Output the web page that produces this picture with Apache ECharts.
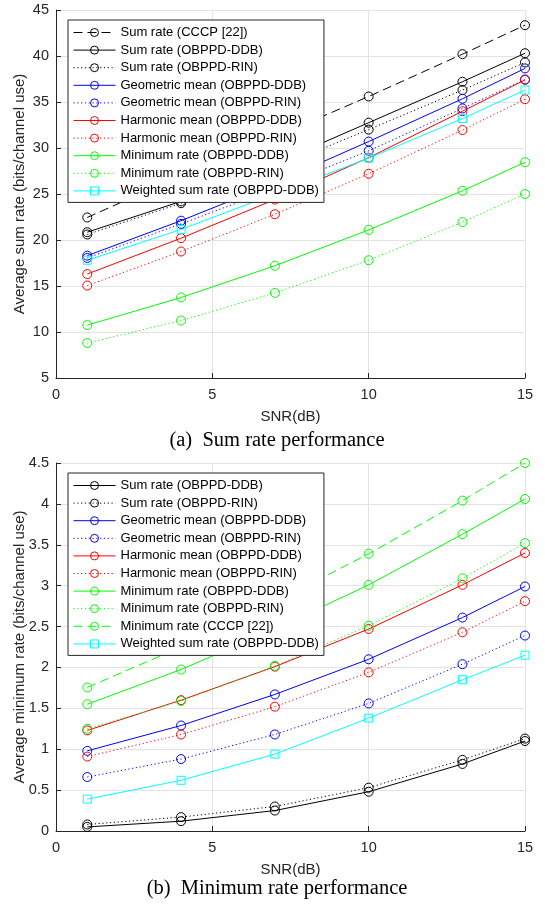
<!DOCTYPE html>
<html>
<head>
<meta charset="utf-8">
<script src="https://cdn.jsdelivr.net/npm/echarts@6/dist/echarts.min.js"></script>
<style>
html,body{margin:0;padding:0;background:#fff;}
#c{width:545px;height:906px;}
</style>
</head>
<body>
<div id="c"></div>
<script>
// ---- data ----
var snr = [1, 4, 7, 10, 13, 15];
var xTicks = [0, 5, 10, 15];

// (a) sum rate
var aSumCCCP  = [22.45, 27.0, 31.2, 35.6, 40.2, 43.35];
var aSumDDB   = [20.85, 24.2, 28.3, 32.75, 37.2, 40.3];
var aSumRIN   = [20.6, 24.0, 27.8, 32.0, 36.3, 39.3];
var aGeoDDB   = [18.3, 22.1, 26.2, 30.7, 35.35, 38.65];
var aGeoRIN   = [18.05, 21.75, 25.6, 29.7, 34.3, 37.45];
var aHarmDDB  = [16.3, 20.2, 24.4, 28.95, 34.0, 37.4];
var aHarmRIN  = [15.05, 18.75, 22.8, 27.2, 31.95, 35.3];
var aMinDDB   = [10.75, 13.75, 17.2, 21.1, 25.35, 28.45];
var aMinRIN   = [8.8, 11.25, 14.25, 17.8, 21.95, 25.0];
var aWSum     = [17.8, 21.15, 25.0, 28.9, 33.2, 36.3];
var aYTicks   = [5, 10, 15, 20, 25, 30, 35, 40, 45];

// (b) minimum rate
var bSumDDB   = [0.05, 0.12, 0.25, 0.48, 0.82, 1.10];
var bSumRIN   = [0.08, 0.17, 0.30, 0.53, 0.87, 1.13];
var bGeoDDB   = [0.98, 1.29, 1.67, 2.10, 2.61, 2.99];
var bGeoRIN   = [0.66, 0.88, 1.18, 1.56, 2.04, 2.39];
var bHarmDDB  = [1.23, 1.60, 2.01, 2.47, 3.01, 3.40];
var bHarmRIN  = [0.91, 1.18, 1.52, 1.94, 2.43, 2.81];
var bMinDDB   = [1.55, 1.975, 2.47, 3.01, 3.63, 4.06];
var bMinRIN   = [1.25, 1.59, 2.02, 2.51, 3.09, 3.52];
var bMinCCCP  = [1.755, 2.25, 2.8, 3.39, 4.04, 4.5];
var bWSum     = [0.39, 0.62, 0.94, 1.38, 1.85, 2.15];
var bYTicks   = [0, 0.5, 1, 1.5, 2, 2.5, 3, 3.5, 4, 4.5];

var N_SUM_CCCP = 'Sum rate (CCCP [22])';
var N_SUM_DDB = 'Sum rate (OBPPD-DDB)';
var N_SUM_RIN = 'Sum rate (OBPPD-RIN)';
var N_GEO_DDB = 'Geometric mean (OBPPD-DDB)';
var N_GEO_RIN = 'Geometric mean (OBPPD-RIN)';
var N_HARM_DDB = 'Harmonic mean (OBPPD-DDB)';
var N_HARM_RIN = 'Harmonic mean (OBPPD-RIN)';
var N_MIN_DDB = 'Minimum rate (OBPPD-DDB)';
var N_MIN_RIN = 'Minimum rate (OBPPD-RIN)';
var N_MIN_CCCP = 'Minimum rate (CCCP [22])';
var N_WSUM = 'Weighted sum rate (OBPPD-DDB)';

// ---- styling ----
var FONT = 'Liberation Sans';
var AX = '#262626';
var GRIDC = '#e3e3e3';
var DOT = [1.2, 2.6];
var DASH = [9, 5];

function mk(name, vals, color, type, symbol, idx) {
  return {
    name: name, type: 'line',
    xAxisIndex: idx, yAxisIndex: idx,
    data: snr.map(function (x, i) { return [x, vals[i]]; }),
    symbol: symbol || 'circle',
    symbolSize: symbol === 'rect' ? 8 : 9,
    showAllSymbol: true,
    lineStyle: { color: color, width: 1, type: type },
    itemStyle: { color: 'rgba(0,0,0,0)', borderColor: color, borderWidth: 1 },
    emphasis: { disabled: true },
    animation: false
  };
}

function xAx(idx) {
  return {
    gridIndex: idx, type: 'value', min: 0, max: 15, interval: 5,
    name: 'SNR(dB)', nameLocation: 'middle', nameGap: 31, nameMoveOverlap: false,
    nameTextStyle: { fontFamily: FONT, fontSize: 15, color: AX },
    axisLine: { show: true, lineStyle: { color: AX, width: 1 } },
    axisTick: { show: true, inside: true, length: 5, lineStyle: { color: AX } },
    axisLabel: { fontFamily: FONT, fontSize: 14.5, color: AX, margin: 9 },
    splitLine: { show: true, lineStyle: { color: GRIDC, width: 1 } }
  };
}
function yAx(idx, name, ticks) {
  var iv = ticks[1] - ticks[0];
  return {
    gridIndex: idx, type: 'value', min: ticks[0], max: ticks[ticks.length - 1], interval: iv,
    name: name, nameLocation: 'middle', nameGap: 28.5, nameMoveOverlap: false,
    nameTextStyle: { fontFamily: FONT, fontSize: 15, color: AX },
    axisLine: { show: true, lineStyle: { color: AX, width: 1 } },
    axisTick: { show: true, inside: true, length: 5, lineStyle: { color: AX } },
    axisLabel: { fontFamily: FONT, fontSize: 14.5, color: AX, margin: 7 },
    splitLine: { show: true, lineStyle: { color: GRIDC, width: 1 } }
  };
}
function leg(top, names) {
  return {
    orient: 'vertical', left: 68, top: top,
    data: names,
    padding: [6, 5, 5, 5],
    itemWidth: 42, itemHeight: 10, itemGap: 4.6,
    lineStyle: { width: 1 },
    itemStyle: { borderWidth: 1 },
    backgroundColor: '#fff', borderColor: AX, borderWidth: 1, borderRadius: 0,
    textStyle: { fontFamily: FONT, fontSize: 13, color: '#000' },
    selectedMode: false, z: 10
  };
}

var series = [
  mk(N_SUM_CCCP, aSumCCCP, '#000', DASH, 'circle', 0),
  mk(N_SUM_DDB, aSumDDB, '#000', 'solid', 'circle', 0),
  mk(N_SUM_RIN, aSumRIN, '#000', DOT, 'circle', 0),
  mk(N_GEO_DDB, aGeoDDB, '#0000ff', 'solid', 'circle', 0),
  mk(N_GEO_RIN, aGeoRIN, '#0000ff', DOT, 'circle', 0),
  mk(N_HARM_DDB, aHarmDDB, '#ff0000', 'solid', 'circle', 0),
  mk(N_HARM_RIN, aHarmRIN, '#ff0000', DOT, 'circle', 0),
  mk(N_MIN_DDB, aMinDDB, '#00ff00', 'solid', 'circle', 0),
  mk(N_MIN_RIN, aMinRIN, '#00ff00', DOT, 'circle', 0),
  mk(N_WSUM, aWSum, '#00ffff', 'solid', 'rect', 0),

  mk(N_SUM_DDB, bSumDDB, '#000', 'solid', 'circle', 1),
  mk(N_SUM_RIN, bSumRIN, '#000', DOT, 'circle', 1),
  mk(N_GEO_DDB, bGeoDDB, '#0000ff', 'solid', 'circle', 1),
  mk(N_GEO_RIN, bGeoRIN, '#0000ff', DOT, 'circle', 1),
  mk(N_HARM_DDB, bHarmDDB, '#ff0000', 'solid', 'circle', 1),
  mk(N_HARM_RIN, bHarmRIN, '#ff0000', DOT, 'circle', 1),
  mk(N_MIN_DDB, bMinDDB, '#00ff00', 'solid', 'circle', 1),
  mk(N_MIN_RIN, bMinRIN, '#00ff00', DOT, 'circle', 1),
  mk(N_MIN_CCCP, bMinCCCP, '#00ff00', DASH, 'circle', 1),
  mk(N_WSUM, bWSum, '#00ffff', 'solid', 'rect', 1)
];

var chart = echarts.init(document.getElementById('c'), null, { renderer: 'canvas' });
chart.setOption({
  animation: false,
  backgroundColor: '#fff',
  grid: [
    { left: 56, top: 10, width: 469, height: 368 },
    { left: 56, top: 463, width: 469, height: 368 }
  ],
  xAxis: [xAx(0), xAx(1)],
  yAxis: [
    yAx(0, 'Average sum rate (bits/channel use)', aYTicks),
    yAx(1, 'Average minimum rate (bits/channel use)', bYTicks)
  ],
  legend: [
    leg(20, [N_SUM_CCCP, N_SUM_DDB, N_SUM_RIN, N_GEO_DDB, N_GEO_RIN, N_HARM_DDB, N_HARM_RIN, N_MIN_DDB, N_MIN_RIN, N_WSUM]),
    leg(473, [N_SUM_DDB, N_SUM_RIN, N_GEO_DDB, N_GEO_RIN, N_HARM_DDB, N_HARM_RIN, N_MIN_DDB, N_MIN_RIN, N_MIN_CCCP, N_WSUM])
  ],
  graphic: [
    { type: 'text', x: 277, y: 441, z: 10,
      style: { text: '(a)  Sum rate performance', font: '20.5px "Liberation Serif"', fill: '#000', textAlign: 'center', textVerticalAlign: 'middle' } },
    { type: 'text', x: 277, y: 889, z: 10,
      style: { text: '(b)  Minimum rate performance', font: '20.5px "Liberation Serif"', fill: '#000', textAlign: 'center', textVerticalAlign: 'middle' } }
  ],
  series: series
});
</script>
</body>
</html>
